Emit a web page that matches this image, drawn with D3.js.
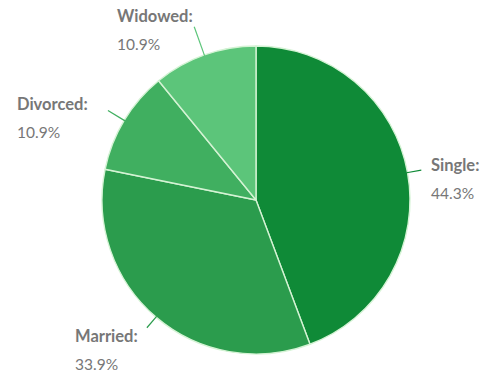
<!DOCTYPE html>
<html>
<head>
<meta charset="utf-8">
<script src="https://cdn.jsdelivr.net/npm/d3@7"></script>
<style>
  html, body { margin: 0; padding: 0; background: #fff; }
  svg { display: block; }
</style>
</head>
<body>
<svg id="chart" width="483" height="375"></svg>
<script>
// Marital status shares, clockwise from 12 o'clock
const categories = ["Single", "Married", "Divorced", "Widowed"];
const shares = [44.3, 33.9, 10.9, 10.9];
const sliceColors = ["#0f8a37", "#2b9c4d", "#40af60", "#5cc57a"];

const cx = 256, cy = 200, radius = 154;

const svg = d3.select("#chart");
const g = svg.append("g").attr("transform", `translate(${cx},${cy})`);

const data = categories.map((c, i) => ({ name: c, value: shares[i], color: sliceColors[i] }));

const pie = d3.pie().value(d => d.value).sort(null);
const arcs = pie(data);
const arc = d3.arc().innerRadius(0).outerRadius(radius);

g.selectAll("path.slice")
  .data(arcs)
  .join("path")
  .attr("class", "slice")
  .attr("d", arc)
  .attr("fill", d => d.data.color)
  .attr("stroke", "#d4f3d4")
  .attr("stroke-width", 1.4)
  .attr("stroke-linejoin", "round");

// Leader length and label box position (top-left baseline, relative to pie centre)
const labelPlacement = {
  Single:   { lead: 14, lx: 175,  ly: -29 },
  Married:  { lead: 14, lx: -181, ly: 142 },
  Divorced: { lead: 19, lx: -239, ly: -90 },
  Widowed:  { lead: 30, lx: -139, ly: -178 }
};

const fmt = d3.format(".1f");

arcs.forEach(a => {
  const pl = labelPlacement[a.data.name];
  const mid = (a.startAngle + a.endAngle) / 2;
  const r0 = radius - 1, r1 = radius + pl.lead;
  g.append("line")
    .attr("x1", Math.sin(mid) * r0).attr("y1", -Math.cos(mid) * r0)
    .attr("x2", Math.sin(mid) * r1).attr("y2", -Math.cos(mid) * r1)
    .attr("stroke", a.data.color)
    .attr("stroke-width", 1.2);

  const t = g.append("text")
    .attr("x", pl.lx).attr("y", pl.ly)
    .attr("text-anchor", "start")
    .attr("font-family", "Lato, 'Open Sans', sans-serif")
    .attr("fill", "#777777");
  t.append("tspan").attr("x", pl.lx).attr("font-weight", "bold").attr("font-size", 16.5)
    .text(a.data.name + ":");
  t.append("tspan").attr("x", pl.lx).attr("dy", 27.5).attr("font-size", 15.5)
    .text(fmt(a.data.value) + "%");
});
</script>
</body>
</html>
